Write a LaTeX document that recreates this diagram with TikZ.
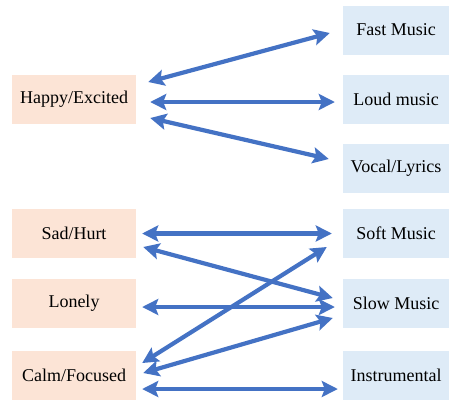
\documentclass[tikz,border=0pt]{standalone}
\usepackage{fontspec}
\setmainfont{Liberation Serif}
\usetikzlibrary{arrows.meta,calc}
\definecolor{moodfill}{HTML}{FCE4D6}
\definecolor{musicfill}{HTML}{DEEBF7}
\definecolor{linkblue}{HTML}{4472C4}

\begin{document}
\begin{tikzpicture}[x=1pt, y=-1pt,
  mood/.style={fill=moodfill, minimum width=124pt, minimum height=49pt, inner sep=0pt, font=\fontsize{18}{21}\selectfont},
  music/.style={fill=musicfill, minimum width=106pt, minimum height=49pt, inner sep=0pt, font=\fontsize{18}{21}\selectfont},
  link/.style={{Stealth[length=16pt,width=16pt,inset=3pt]}-{Stealth[length=16pt,width=16pt,inset=3pt]}, line width=4.2pt, draw=linkblue}]
  \useasboundingbox (0,0) rectangle (449,400);

  % Moods on the left
  \node[mood] (happy) at (74, 99.5) {Happy/Excited};
  \node[mood] (sad) at (74, 233.5) {Sad/Hurt};
  \node[mood] (lonely) at (74, 303.5) {Lonely};
  \node[mood] (calm) at (74, 375.5) {Calm/Focused};

  % Music on the right
  \node[music] (fast) at (396, 30) {Fast Music};
  \node[music] (loud) at (396, 99.5) {Loud music};
  \node[music] (vocal) at (396, 168) {Vocal/Lyrics};
  \node[music] (soft) at (396, 233.5) {Soft Music};
  \node[music] (slow) at (396, 303.5) {Slow Music};
  \node[music] (instr) at (396, 375.5) {Instrumental};

  % Links
  \draw[link] ($(happy.east)+(12,-17.5)$) -- ($(fast.west)+(-13,3)$);
  \draw[link] ($(happy.east)+(14,2.5)$) -- ($(loud.west)+(-8,2.5)$);
  \draw[link] ($(happy.east)+(14,18.5)$) -- ($(vocal.west)+(-14,-9)$);
  \draw[link] ($(sad.east)+(6,0)$) -- ($(soft.west)+(-11,0)$);
  \draw[link] ($(sad.east)+(7,13.5)$) -- ($(slow.west)+(-10,-5.5)$);
  \draw[link] ($(lonely.east)+(6,3.5)$) -- ($(slow.west)+(-8,3.5)$);
  \draw[link] ($(calm.east)+(6,-12.5)$) -- ($(soft.west)+(-16,13.5)$);
  \draw[link] ($(calm.east)+(7,-2.5)$) -- ($(slow.west)+(-10,14.5)$);
  \draw[link] ($(calm.east)+(6,13.5)$) -- ($(instr.west)+(-5,13.5)$);
\end{tikzpicture}
\end{document}
